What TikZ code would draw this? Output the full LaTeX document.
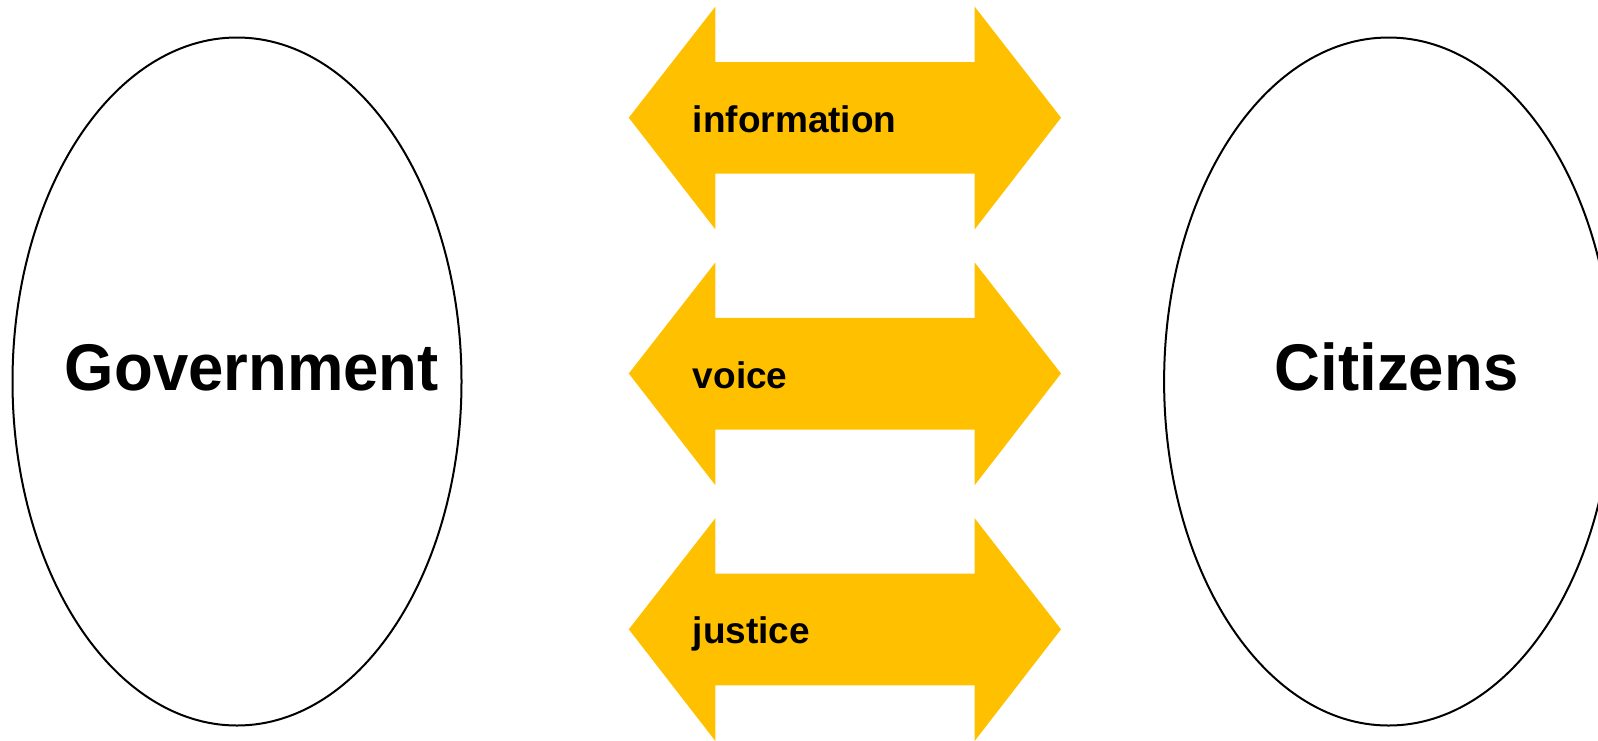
\documentclass[tikz,border=0pt]{standalone}
\usepackage{fontspec}
\setmainfont{Liberation Sans}
\usetikzlibrary{shapes.geometric}
\definecolor{gold}{HTML}{FFC000}
\tikzset{
  oval/.style={ellipse, draw=black, line width=1pt, fill=white, minimum width=224.5pt, minimum height=344pt, inner sep=0pt},
  bigtext/.style={font=\fontsize{33pt}{33pt}\selectfont\bfseries, inner sep=0pt, anchor=base west},
  arrtext/.style={font=\fontsize{18.5pt}{18.5pt}\selectfont\bfseries, inner sep=0pt, anchor=base west},
  dblarrow/.style={fill=gold, draw=none}
}
\begin{document}
\begin{tikzpicture}[x=0.5pt, y=-0.5pt]
\useasboundingbox (0,0) rectangle (1598,740);
\node[oval] (gov) at (237,381.5) {};
\node[oval] (cit) at (1388.6,381.5) {};
\node[bigtext] (govtext) at (64.5,390) {\scalebox{0.962}[1]{Government}};
\node[bigtext] (cittext) at (1274.5,390.5) {\scalebox{0.962}[1]{Citizens}};
\foreach \c/\lab/\nm in {117.7/information/info, 373.5/voice/voice, 629.3/justice/just}{
  \fill[dblarrow] (628.8,\c) -- (715.3,\c-111) -- (715.3,\c-55.7) -- (974.7,\c-55.7)
    -- (974.7,\c-111) -- (1061,\c) -- (974.7,\c+111.6) -- (974.7,\c+56)
    -- (715.3,\c+56) -- (715.3,\c+111.6) -- cycle;
  \node[arrtext] (\nm) at (692.5,\c+14.5) {\lab};
}
\end{tikzpicture}
\end{document}
